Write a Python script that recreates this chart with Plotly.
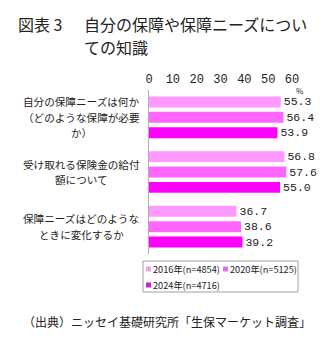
import plotly.graph_objects as go

# Survey items (y categories) and responses (%) by survey year
items = [
    "自分の保障ニーズは何か<br>（どのような保障が必要<br>か）",
    "受け取れる保険金の給付<br>額について",
    "保障ニーズはどのような<br>ときに変化するか",
]
series_names = ["2016年(n=4854)", "2020年(n=5125)", "2024年(n=4716)"]
values_2016 = [55.3, 56.8, 36.7]
values_2020 = [56.4, 57.6, 38.6]
values_2024 = [53.9, 55.0, 39.2]
x_ticks = [0, 10, 20, 30, 40, 50, 60]

title_no = "図表 3"
title_lines = ["自分の保障や保障ニーズについ", "ての知識"]
source_text = "（出典）ニッセイ基礎研究所「生保マーケット調査」"

bar_colors = ["#FF99FF", "#FF66FF", "#FF00FF"]
swatch_colors = ["#EBA3EB", "#E070E0", "#CC22CC"]
text_color = "#222222"
num_font = "Liberation Mono"
jp_font = "Noto Sans CJK JP"

W, H = 336, 338
ML, MR, MT, MB = 149, 44, 90, 84
PW, PH = W - ML - MR, H - MT - MB


def px_x(px):
    return (px - ML) / PW


def px_y(py):
    return (H - MB - py) / PH


fig = go.Figure()
for name, vals, color in zip(series_names, [values_2016, values_2020, values_2024], bar_colors):
    fig.add_trace(go.Bar(
        y=items, x=vals, name=name, orientation="h",
        marker=dict(color=color, line=dict(width=0)),
        text=[f"{v:.1f}" for v in vals], textposition="outside",
        textfont=dict(family=num_font, size=11.5, color=text_color),
        constraintext="none", cliponaxis=False, showlegend=False,
    ))

annotations = []
# category labels: each line placed separately, centred as a block left of the axis
label_size = 10.6
line_step = 15.4
for it in items:
    lines = it.split("<br>")
    n = len(lines)
    for k, line in enumerate(lines):
        annotations.append(dict(
            x=px_x(81), y=it, xref="paper", yref="y", xanchor="center", yanchor="middle",
            yshift=((n - 1) / 2 - k) * line_step, text=line, showarrow=False,
            font=dict(family=jp_font, size=label_size, color=text_color),
        ))

# title
annotations.append(dict(
    x=px_x(16), y=px_y(24), xref="paper", yref="paper", xanchor="left", yanchor="middle",
    text=title_no, showarrow=False,
    font=dict(family=jp_font, size=16, color=text_color),
))
for k, line in enumerate(title_lines):
    annotations.append(dict(
        x=px_x(82), y=px_y(24 + 23 * k), xref="paper", yref="paper",
        xanchor="left", yanchor="middle", text=line, showarrow=False,
        font=dict(family=jp_font, size=16, color=text_color),
    ))
# unit
annotations.append(dict(
    x=px_x(300), y=px_y(90), xref="paper", yref="paper", xanchor="center", yanchor="middle",
    text="%", showarrow=False, font=dict(family=jp_font, size=8, color=text_color),
))
# source
annotations.append(dict(
    x=px_x(167), y=px_y(321), xref="paper", yref="paper", xanchor="center", yanchor="middle",
    text=source_text, showarrow=False, font=dict(family=jp_font, size=12, color=text_color),
))

# legend drawn as a boxed key
shapes = [dict(
    type="rect", xref="paper", yref="paper",
    x0=px_x(143), x1=px_x(298), y0=px_y(292), y1=px_y(261),
    line=dict(color="#A0A0A0", width=1), fillcolor="white", layer="above",
)]
legend_pos = [(146, 269), (223, 269), (146, 285)]
for (lx, ly), name, col in zip(legend_pos, series_names, swatch_colors):
    shapes.append(dict(
        type="rect", xref="paper", yref="paper",
        x0=px_x(lx), x1=px_x(lx + 5), y0=px_y(ly + 2.5), y1=px_y(ly - 2.5),
        line=dict(width=0), fillcolor=col, layer="above",
    ))
    annotations.append(dict(
        x=px_x(lx + 5.5), y=px_y(ly), xref="paper", yref="paper", xanchor="left", yanchor="middle",
        text=name, showarrow=False, borderpad=0,
        font=dict(family=jp_font, size=9.2, color=text_color),
    ))

fig.update_layout(
    width=W, height=H,
    margin=dict(l=ML, r=MR, t=MT, b=MB, pad=0),
    paper_bgcolor="white", plot_bgcolor="white",
    barmode="group", bargap=0.155, bargroupgap=0.29,
    font=dict(family=jp_font, color=text_color),
    xaxis=dict(
        side="top", range=[0, 60], tickvals=x_ticks, showgrid=False, zeroline=False,
        showline=False, ticks="", ticklabelstandoff=4,
        tickfont=dict(family=num_font, size=12, color=text_color), fixedrange=True,
    ),
    yaxis=dict(
        autorange="reversed", showticklabels=False, ticks="", showgrid=False,
        showline=True, linecolor="#B0B0B0", linewidth=1, zeroline=False,
    ),
    annotations=annotations, shapes=shapes,
)

fig.write_html("out.html")
